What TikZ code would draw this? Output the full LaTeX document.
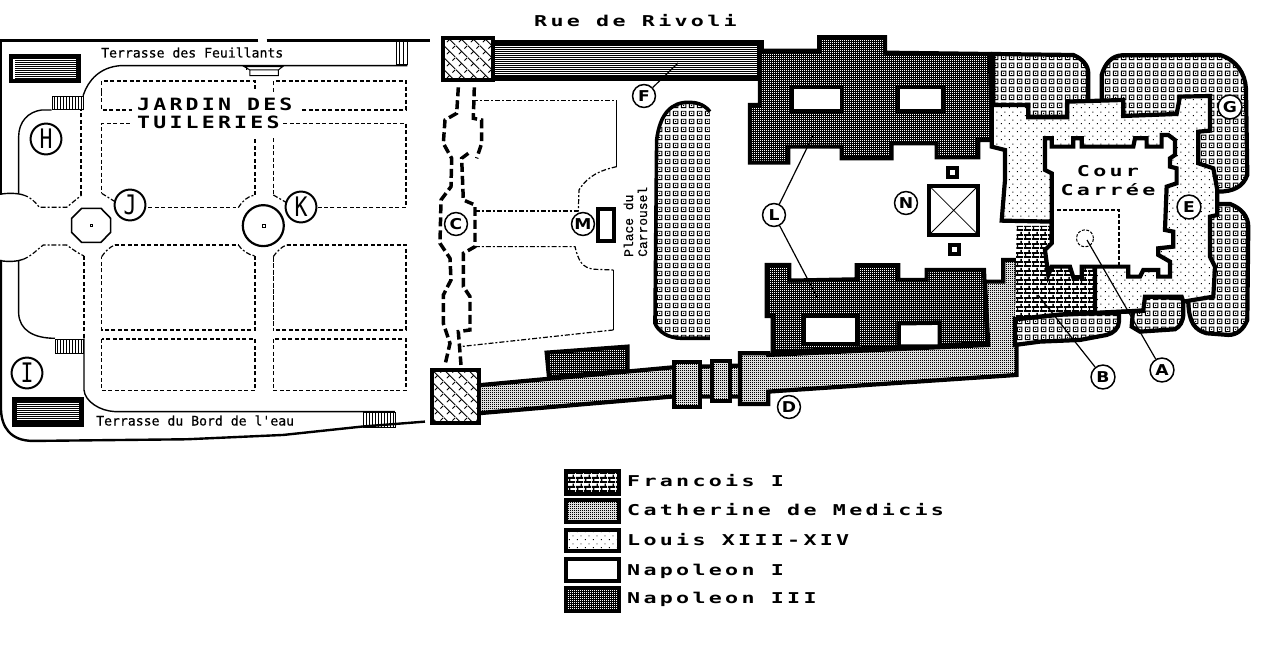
\documentclass[tikz,border=0pt]{standalone}
\usepackage{fontspec}
\usetikzlibrary{patterns}
\newfontfamily\legfont[FakeStretch=1.45,LetterSpace=22]{DejaVu Sans Mono Bold}
\newfontfamily\jardfont[FakeStretch=1.27,LetterSpace=19]{DejaVu Sans Mono Bold}
\newfontfamily\terfont[FakeBold=0.5]{DejaVu Sans Mono}
\newfontfamily\tallfont[FakeStretch=0.8]{DejaVu Sans Mono}
\newfontfamily\boldlab[FakeStretch=1.15]{DejaVu Sans Bold}
\newfontfamily\placefont[FakeBold=0.4]{Liberation Mono}
\pgfdeclarepatternformonly{cellsq}{\pgfqpoint{0bp}{0bp}}{\pgfqpoint{8bp}{8bp}}{\pgfqpoint{8bp}{8bp}}{
  \pgfsetlinewidth{1bp}\pgfpathrectangle{\pgfqpoint{1.5bp}{1.5bp}}{\pgfqpoint{5bp}{5bp}}\pgfusepath{stroke}
  \pgfpathrectangle{\pgfqpoint{3.5bp}{3.5bp}}{\pgfqpoint{1bp}{1bp}}\pgfusepath{fill}}
\pgfdeclarepatternformonly{brickp}{\pgfqpoint{0bp}{0bp}}{\pgfqpoint{8bp}{9bp}}{\pgfqpoint{8bp}{9bp}}{
  \pgfpathrectangle{\pgfqpoint{0bp}{0bp}}{\pgfqpoint{8bp}{2bp}}
  \pgfpathrectangle{\pgfqpoint{0bp}{4.5bp}}{\pgfqpoint{8bp}{2bp}}
  \pgfpathrectangle{\pgfqpoint{1bp}{0bp}}{\pgfqpoint{1.5bp}{4.5bp}}
  \pgfpathrectangle{\pgfqpoint{5bp}{4.5bp}}{\pgfqpoint{1.5bp}{4.5bp}}\pgfusepath{fill}}
\pgfdeclarepatternformonly{sparsedot}{\pgfqpoint{0bp}{0bp}}{\pgfqpoint{8bp}{8bp}}{\pgfqpoint{8bp}{8bp}}{
  \pgfpathrectangle{\pgfqpoint{1bp}{1bp}}{\pgfqpoint{1bp}{1bp}}
  \pgfpathrectangle{\pgfqpoint{5bp}{5bp}}{\pgfqpoint{1bp}{1bp}}\pgfusepath{fill}}
\pgfdeclarepatternformonly{cathp}{\pgfqpoint{0bp}{0bp}}{\pgfqpoint{2bp}{2bp}}{\pgfqpoint{2bp}{2bp}}{
  \pgfpathrectangle{\pgfqpoint{0bp}{0bp}}{\pgfqpoint{1.3bp}{1.3bp}}
  \pgfpathrectangle{\pgfqpoint{1bp}{1bp}}{\pgfqpoint{1bp}{1bp}}\pgfusepath{fill}}
\pgfdeclarepatternformonly{whitedot}{\pgfqpoint{0bp}{0bp}}{\pgfqpoint{2bp}{2bp}}{\pgfqpoint{2bp}{2bp}}{
  \pgfpathrectangle{\pgfqpoint{0bp}{0bp}}{\pgfqpoint{1.3bp}{1.3bp}}\pgfusepath{fill}}
\pgfdeclarepatternformonly{herring}{\pgfqpoint{0bp}{0bp}}{\pgfqpoint{12bp}{12bp}}{\pgfqpoint{12bp}{12bp}}{
  \pgfsetlinewidth{0.9bp}
  \pgfpathmoveto{\pgfqpoint{0bp}{12bp}}\pgfpathlineto{\pgfqpoint{12bp}{0bp}}
  \pgfpathmoveto{\pgfqpoint{3bp}{3bp}}\pgfpathlineto{\pgfqpoint{6bp}{6bp}}
  \pgfpathmoveto{\pgfqpoint{9bp}{9bp}}\pgfpathlineto{\pgfqpoint{12bp}{12bp}}
  \pgfusepath{stroke}}
\tikzset{
  solidline/.style={line width=1.4pt},
  heavyline/.style={line width=2.4pt},
  thindash/.style={line width=1.3pt,dash pattern=on 4pt off 2.5pt},
  dotdash/.style={line width=1.2pt,dash pattern=on 5pt off 2pt on 2pt off 2pt},
  thickdash/.style={line width=3.5pt,dash pattern=on 9pt off 4pt},
  pen/.style={line width=4.2pt,line join=miter},
  callout/.style={circle,draw,fill=white,line width=1.5pt,inner sep=0pt,minimum size=23pt,text=black},
  bigcall/.style={circle,draw,fill=white,line width=2pt,inner sep=0pt,minimum size=31pt},
  lead/.style={line width=1.2pt},
  legbox/.style={draw,line width=4pt},
  hair/.style={line width=1bp},
  z1/.style={shift={(0,30)},x=0.3333bp,y=-0.3333bp},
  z2/.style={shift={(425,30)},x=0.3333bp,y=-0.3333bp},
  z3/.style={shift={(740,30)},x=0.3333bp,y=-0.3333bp},
  z4/.style={shift={(980,40)},x=0.3333bp,y=-0.3333bp},
  pcell/.style={preaction={fill=white},pattern=cellsq},
  pbrick/.style={preaction={fill=white},pattern=brickp},
  pdots/.style={preaction={fill=white},pattern=sparsedot},
  pcath/.style={preaction={fill=white},pattern=cathp},
  pnap/.style={preaction={fill=black},pattern=whitedot,pattern color=white},
  pher/.style={preaction={fill=white},pattern=herring},
  legtxt/.style={anchor=base west,inner sep=0pt,font=\legfont\fontsize{15pt}{15pt}\selectfont},
  jardtxt/.style={anchor=base west,inner sep=0pt,font=\jardfont\fontsize{17pt}{17pt}\selectfont},
  tertxt/.style={anchor=base west,inner sep=0pt,font=\terfont\fontsize{13.2pt}{13pt}\selectfont},
  placetxt/.style={rotate=90,anchor=base west,inner sep=0pt,font=\placefont\fontsize{13pt}{13pt}\selectfont},
  biglab/.style={font=\tallfont\fontsize{27pt}{27pt}\selectfont},
  smalllab/.style={font=\boldlab\fontsize{15pt}{15pt}\selectfont},
}
\begin{document}
\begin{tikzpicture}[x=1bp,y=-1bp]
\useasboundingbox (0,0) rectangle (1264,645);
\fill[white] (0,0) rectangle (1264,645);

% ---- garden
\begin{scope}[z1]
\draw[heavyline] (775,32) -- (0,32) -- (3,32) -- (3,492);
\draw[heavyline] (800,32) -- (1290,32);
\draw[heavyline] (3,690) -- (3,1140) .. controls (5,1190) and (30,1233) .. (100,1233) -- (560,1228) -- (850,1215) -- (1085,1190) -- (1275,1175);
\draw[solidline] (1222,107) -- (360,107) .. controls (300,112) and (265,150) .. (250,195) -- (248,240);
\draw[solidline] (155,240) -- (125,240) .. controls (85,245) and (56,275) .. (56,320) -- (56,490);
\draw[solidline] (0,493) .. controls (25,488) and (55,490) .. (70,495);
\draw[dotdash] (70,495) .. controls (90,500) and (105,515) .. (118,532) -- (200,532) -- (245,495);
\draw[thindash] (243,495) -- (243,240);
\draw[solidline] (0,692) .. controls (25,696) and (50,695) .. (70,688);
\draw[dotdash] (70,688) .. controls (100,675) and (115,655) .. (130,645) -- (200,645) .. controls (220,660) and (235,670) .. (252,678);
\draw[thindash] (252,678) -- (252,925);
\draw[solidline] (56,693) -- (56,850) .. controls (58,900) and (100,925) .. (165,925);
\draw[solidline] (252,925) -- (252,1080) .. controls (255,1115) and (300,1143) .. (345,1145) -- (1185,1145);
\draw[line width=1pt] (1190,32) rectangle (1223,105) (1200,32) -- (1200,105) (1212,32) -- (1212,105);
\draw[line width=1pt] (733,110) -- (848,110) -- (835,120) -- (750,120) -- cycle (750,120) rectangle (835,137) (740,110) -- (740,120);
% boxes
\draw[thindash] (305,185) -- (305,153) -- (765,153) -- (765,185);
\draw[thindash] (305,185) -- (305,240) -- (395,240);
\draw[thindash] (820,185) -- (820,153) -- (1218,153) -- (1218,240) -- (905,240);
\draw[thindash] (390,280) -- (305,280) -- (305,490);
\draw[dotdash] (305,490) -- (345,515);
\draw[thindash] (445,533) -- (715,533);
\draw[dotdash] (715,533) .. controls (725,515) and (745,497) .. (765,495);
\draw[thindash] (765,495) -- (765,325);
\draw[thindash] (850,280) -- (1218,280) -- (1218,533) -- (950,533);
\draw[thindash] (820,325) -- (820,495);
\draw[dotdash] (820,495) -- (860,518);
\draw[dotdash] (305,680) .. controls (315,665) and (330,650) .. (345,645);
\draw[thindash] (345,645) -- (715,645);
\draw[dotdash] (715,645) .. controls (725,660) and (745,675) .. (765,678);
\draw[thindash] (765,678) -- (765,900) -- (305,900) -- (305,680);
\draw[dotdash] (820,680) .. controls (830,665) and (845,650) .. (860,645);
\draw[thindash] (860,645) -- (1218,645) -- (1218,900) -- (820,900);
\draw[line width=0.8pt,dash pattern=on 5pt off 1.5pt] (820,680) -- (820,900);
\draw[thindash] (305,927) rectangle (765,1082);
\draw[thindash] (820,927) rectangle (1218,1082);
% basins
\draw[line width=1.6pt] (245,535) -- (303,535) -- (332,565) -- (332,607) -- (303,637) -- (245,637) -- (215,607) -- (215,565) -- cycle;
\draw[line width=0.8pt] (271,583) rectangle (278,590);
\draw[line width=2.2pt] (790,587) circle[radius=20.5bp];
\draw[line width=0.8pt] (787,583) rectangle (796,592);
\end{scope}
% stairs
\draw[hair,fill=white] (52.5,96.5) rectangle (83,110);
\foreach \sx in {54.5,57.5,...,81.5} \draw[hair] (\sx,96.5) -- (\sx,110);
\draw[hair,fill=white] (55.5,339.5) rectangle (83,353);
\foreach \sx in {57.5,60.5,...,81.5} \draw[hair] (\sx,339.5) -- (\sx,353);
\draw[hair] (363.5,412) rectangle (395,427);
\foreach \sx in {366.5,369.5,...,393.5} \draw[hair] (\sx,412) -- (\sx,427);
% ponds
\fill (9,54) rectangle (81,83);
\fill[white] (13,59) rectangle (76,79);
\foreach \py in {60,62,...,78} \fill (15,\py) rectangle (76,\py+1);
\fill (12,397) rectangle (84,427);
\fill[white] (17,403) rectangle (79,421);
\foreach \py in {404,406,...,420} \fill (17,\py) rectangle (79,\py+1);
\node[tertxt] at (101,57.5) {Terrasse des Feuillants};
\node[tertxt] at (96,425.5) {Terrasse du Bord de l'eau};
\node[jardtxt] at (137,111) {JARDIN DES};
\node[jardtxt] at (137,129) {TUILERIES};
\node[bigcall,biglab] (H) at (46,139) {H};
\node[bigcall,biglab] (J) at (130,205) {J};
\node[bigcall,biglab] (K) at (301,207) {K};
\node[bigcall,biglab] (I) at (27,373) {I};

\node[legtxt] at (534,27) {Rue de Rivoli};

% ---- Carrousel area
\begin{scope}[z2]
\draw[dotdash] (145,212) -- (575,212);
\draw[line width=1.4pt] (575,212) -- (575,410);
\draw[dotdash] (575,410) .. controls (530,420) and (490,435) .. (462,480) -- (460,545);
\draw[dotdash] (150,543) -- (460,543);
\draw[dotdash] (150,650) -- (450,650) .. controls (460,690) and (470,715) .. (510,718) -- (565,720);
\draw[line width=1.4pt] (565,720) -- (565,900);
\draw[dotdash] (565,900) -- (105,950);
\draw[thickdash] (100,172) -- (95,250) -- (60,270) -- (55,340) -- (80,385) -- (78,470) -- (48,510) -- (45,640) -- (75,685) -- (78,750) -- (55,795) -- (55,880) -- (75,940) -- (60,1005);
\draw[thickdash] (148,172) -- (145,265) -- (170,270) -- (170,340) -- (155,385) (130,370) -- (110,385) -- (115,510) -- (150,525) -- (150,650) -- (115,670) -- (115,770) -- (135,800) -- (135,900) -- (100,905) -- (108,1005);
% oval
\path[pcell] (855,245) .. controls (835,220) and (815,215) .. (790,215) .. controls (740,215) and (705,250) .. (695,330) -- (688,880) .. controls (700,905) and (730,925) .. (770,925) -- (855,925) -- cycle;
\draw[line width=3.6pt] (855,245) .. controls (835,220) and (810,217) .. (790,217) .. controls (740,217) and (705,250) .. (695,330) -- (690,880) .. controls (700,905) and (730,925) .. (770,925) -- (855,925);
% annex nap III
\draw[pnap,pen] (365,968) -- (608,950) -- (608,1022) -- (372,1042) -- cycle;
% long gallery W
\draw[pcath,pen] (160,1066) -- (745,1012) -- (1020,1005) -- (1020,1100) -- (740,1100) -- (160,1150) -- cycle;
\draw[pcath,pen] (746,997) rectangle (826,1132);
\draw[pcath,pen] (862,994) rectangle (914,1112);
% pavilions
\draw[pher,pen] (22,1020) rectangle (161,1178);
\draw[pen,fill=white] (519,537) rectangle (567,632);
\end{scope}
% F gallery
\fill (493,40) rectangle (762,81);
\fill[white] (495,46) rectangle (757,76);
\foreach \py in {47,49,...,75} \fill (495,\py) rectangle (757,\py+1);
\begin{scope}[z2]
\draw[pher,pen] (53,25) rectangle (203,150);
\end{scope}
\node[callout,smalllab] (F) at (644,96) {F};
\draw[lead] (F) -- (678,63);
\node[callout,smalllab] (C) at (456,224) {C};
\node[callout,smalllab] (M) at (583,224) {M};
\node[placetxt] at (633,257) {Place du};
\node[placetxt] at (647,257) {Carrousel};

% ---- main building
\begin{scope}[z3]
\draw[pcath,pen] (0,970) -- (85,970) -- (85,975) -- (745,945) -- (735,755) -- (790,755) -- (790,690) -- (830,690) -- (830,1035) -- (85,1085) -- (85,1122) -- (0,1122) -- cycle;
\draw[pnap,pen] (30,225) -- (60,225) -- (60,62) -- (238,62) -- (238,22) -- (435,22) -- (435,68) -- (750,72) -- (755,330) -- (715,330) -- (715,382) -- (590,382) -- (590,340) -- (455,340) -- (455,385) -- (305,385) -- (305,350) -- (145,350) -- (145,398) -- (30,398) -- cycle;
\draw[pnap,pen] (80,705) -- (148,705) -- (148,752) -- (350,748) -- (350,706) -- (475,706) -- (475,750) -- (560,750) -- (560,720) -- (732,720) -- (742,940) -- (98,966) -- (98,858) -- (80,858) -- cycle;
\fill (50,30) rectangle (72,62);
\draw[line width=4pt,fill=white] (155,170) rectangle (305,243);
\draw[line width=4pt,fill=white] (473,170) rectangle (610,243);
\draw[line width=4.5pt,fill=white] (192,858) rectangle (352,942);
\draw[line width=4.5pt,fill=white] (476,880) -- (600,878) -- (600,950) -- (476,950) -- cycle;
% central pavilion
\draw[line width=4pt,fill=white] (568,468) rectangle (714,614);
\draw[line width=0.8pt] (568,468) -- (714,614) (568,614) -- (714,468);
\draw[line width=4pt,fill=white] (625,415) rectangle (650,440);
\draw[line width=4pt,fill=white] (631,646) rectangle (656,671);
\end{scope}
\node[callout,smalllab] (L) at (774,215) {L};
\node[callout,smalllab] (N) at (906,203) {N};
\node[callout,smalllab] (D) at (789,407) {D};
\coordinate (Lbend) at (805,152);
\coordinate (Lend) at (813,135);
\coordinate (Lend2) at (817,297);
\draw[lead] (L) -- (Lbend) -- (Lend);
\draw[lead] (L) -- (Lend2);

% ---- old Louvre
\begin{scope}[z4]
% square-cell pavilions
\draw[pcell,pen] (40,42) -- (280,45) .. controls (305,55) and (325,75) .. (325,100) -- (325,230) -- (40,230) -- cycle;
\draw[pcell,pen] (365,230) -- (365,105) .. controls (375,70) and (395,48) .. (425,46) -- (720,45) .. controls (770,60) and (795,100) .. (798,145) -- (802,405) .. controls (790,440) and (760,455) .. (715,455) -- (600,455) -- (600,230) -- cycle;
\draw[pcell,pen] (700,492) -- (750,492) .. controls (785,505) and (805,530) .. (805,560) -- (802,840) .. controls (790,870) and (770,885) .. (745,885) -- (680,880) .. controls (645,870) and (628,850) .. (625,790) -- (600,700) -- cycle;
\draw[pcell,pen] (460,800) -- (455,860) -- (480,875) -- (585,868) .. controls (600,860) and (610,845) .. (610,820) -- (610,775) -- (500,770) -- cycle;
\draw[pcell,pen] (105,835) -- (105,915) -- (180,905) -- (300,900) -- (380,885) .. controls (400,880) and (417,865) .. (417,845) -- (417,820) -- (240,820) -- cycle;
% Louis
\draw[pdots,pen] (35,195) -- (145,195) -- (145,232) -- (262,232) -- (262,185) -- (430,180) -- (430,228) -- (590,222) -- (600,170) -- (690,168) -- (690,272) -- (655,275) -- (655,370) -- (700,385) -- (712,450) -- (712,525) -- (690,530) -- (690,650) -- (705,680) -- (700,770) -- (610,785) -- (605,770) -- (495,770) -- (490,812) -- (345,820) -- (345,690) -- (215,690) -- (215,545) -- (65,542) -- (75,420) -- (75,330) -- (35,320) -- cycle;
% Francois
\path[pbrick] (110,558) -- (225,558) -- (225,670) -- (345,670) -- (345,815) -- (240,820) -- (105,835) -- cycle;
\draw[pen] (345,680) -- (345,815);
\draw[line width=4.5pt] (105,838) -- (240,824) -- (495,812);
% court
\draw[pen,fill=white] (195,295) -- (215,295) -- (215,320) -- (280,320) -- (280,295) -- (305,295) -- (305,320) -- (460,320) -- (465,295) -- (500,295) -- (500,320) -- (545,320) -- (545,285) -- (565,285) -- (585,300) -- (585,345) -- (570,355) -- (570,380) -- (590,385) -- (590,430) -- (560,440) -- (555,570) -- (580,575) -- (580,620) -- (535,625) -- (535,645) -- (570,665) -- (570,710) -- (535,710) -- (535,690) -- (490,690) -- (480,710) -- (445,710) -- (445,680) -- (305,680) -- (305,712) -- (280,712) -- (270,680) -- (215,680) -- (205,705) -- (195,630) -- (215,610) -- (215,400) -- (195,390) -- cycle;
% dashed inner
\draw[line width=1.3pt,dash pattern=on 4pt off 2pt] (232,510) -- (417,510) -- (417,675);
\draw[line width=1pt,dash pattern=on 3pt off 1.5pt] (315,595) circle[radius=8.5bp];
\end{scope}
\node[callout,smalllab,minimum size=24pt] (A) at (1162,370) {A};
\node[callout,smalllab,minimum size=24pt] (B) at (1103,377) {B};
\node[callout,smalllab,minimum size=24pt] (E) at (1189,207) {E};
\node[callout,smalllab,minimum size=24pt] (G) at (1230,107) {G};
\coordinate (Aend) at (1087,240);
\coordinate (Bend) at (1038,295);
\draw[lead] (A) -- (Aend);
\draw[lead] (B) -- (Bend);
\node[legtxt,anchor=base] at (1108,177) {Cour};
\node[legtxt,anchor=base] at (1108,196) {Carrée};

% ---- legend
\draw[legbox,pbrick] (566,471) rectangle (619,494);
\draw[legbox,pcath] (566,500) rectangle (619,522);
\draw[legbox,pdots] (566,530) rectangle (619,551);
\draw[legbox] (566,559) rectangle (619,581);
\draw[legbox,pnap] (566,588) rectangle (619,611);
\node[legtxt] at (627,486.5) {Francois I};
\node[legtxt] at (627,515) {Catherine de Medicis};
\node[legtxt] at (627,545.5) {Louis XIII-XIV};
\node[legtxt] at (627,575.5) {Napoleon I};
\node[legtxt] at (627,603) {Napoleon III};
\end{tikzpicture}
\end{document}
